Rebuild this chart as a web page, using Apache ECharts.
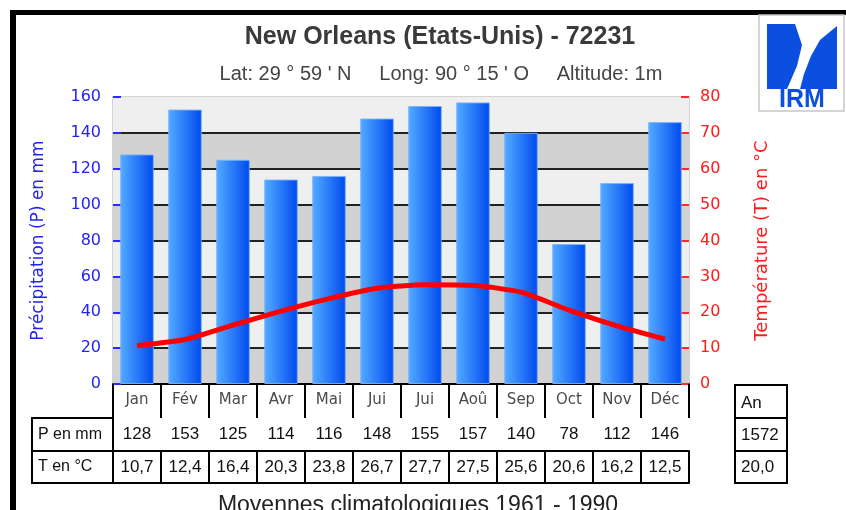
<!DOCTYPE html>
<html>
<head>
<meta charset="utf-8">
<script src="https://cdn.jsdelivr.net/npm/echarts@6/dist/echarts.min.js"></script>
<style>
  html, body { margin: 0; padding: 0; background: #fff; }
  #chart { width: 846px; height: 510px; }
</style>
</head>
<body>
<div id="chart"></div>
<script>
// données climatologiques New Orleans 1961-1990
var months = ['Jan', 'Fév', 'Mar', 'Avr', 'Mai', 'Jui', 'Jui', 'Aoû', 'Sep', 'Oct', 'Nov', 'Déc']
var precip = [128, 153, 125, 114, 116, 148, 155, 157, 140, 78, 112, 146]
var temp = [10.7, 12.4, 16.4, 20.3, 23.8, 26.7, 27.7, 27.5, 25.6, 20.6, 16.2, 12.5]
var annual = ['1572', '20,0']
var rowLabels = ['P en mm', 'T en °C']

var chart = echarts.init(document.getElementById('chart'))

var tableFont = 'Liberation Sans, Arial, sans-serif'
var narrow = '"Liberation Sans Narrow", "Liberation Sans", sans-serif'

// une ligne du tableau = un axe x supplémentaire
function rowAxis (data, offset, len) {
  return {
    type: 'category',
    data: data,
    position: 'bottom',
    offset: offset,
    axisLine: { show: true, lineStyle: { color: '#000', width: 2 } },
    axisTick: { show: len > 0, interval: 0, length: len, lineStyle: { color: '#000', width: 2 } },
    axisLabel: { show: len > 0, interval: 0, margin: 8, color: '#111', fontSize: 17, fontFamily: tableFont },
    splitLine: { show: false }
  }
}

chart.setOption({
  animation: false,
  title: [
    {
      text: 'New Orleans (Etats-Unis) - 72231',
      left: 435, top: 20, textAlign: 'center',
      textStyle: { fontFamily: narrow, fontSize: 25, fontWeight: 'bold', color: '#3a3a3a' }
    },
    {
      text: "Lat: 29 ° 59 ' N     Long: 90 ° 15 ' O     Altitude: 1m",
      left: 436, top: 59, textAlign: 'center',
      textStyle: { fontFamily: narrow, fontSize: 20, fontWeight: 'normal', color: '#444' }
    },
    {
      text: 'Moyennes climatologiques 1961 - 1990',
      left: 413, top: 489, textAlign: 'center',
      textStyle: { fontFamily: tableFont, fontSize: 23, fontWeight: 'normal', color: '#222' }
    }
  ],
  grid: {
    left: 113, right: 157, top: 97, height: 287,
    show: true, backgroundColor: '#efefef', borderColor: '#d4d4d4', borderWidth: 2
  },
  xAxis: [
    {
      type: 'category',
      data: months,
      axisLine: { show: false },
      axisTick: { show: true, interval: 0, length: 34, lineStyle: { color: '#000', width: 2 } },
      axisLabel: { interval: 0, margin: 9, color: '#4a4a4a', fontSize: 15, fontFamily: 'DejaVu Sans' }
    },
    rowAxis(precip.map(String), 34, 33),
    rowAxis(temp.map(function (v) { return v.toFixed(1).replace('.', ',') }), 67, 32),
    rowAxis(months, 99, 0)
  ],
  yAxis: [
    {
      type: 'value',
      min: 0, max: 160, interval: 20,
      name: 'Précipitation (P) en mm',
      nameLocation: 'middle', nameGap: 66, nameRotate: 90,
      nameTextStyle: { color: '#2424f0', fontSize: 17, fontFamily: 'DejaVu Sans' },
      axisLine: { show: false },
      axisTick: { show: true, inside: true, length: 8, lineStyle: { color: '#2b2bff', width: 2 } },
      axisLabel: { color: '#2424f0', fontSize: 16, margin: 12, fontFamily: 'DejaVu Sans' },
      splitLine: { show: true, showMinLine: false, showMaxLine: false, lineStyle: { color: '#222', width: 2 } },
      splitArea: { show: true, areaStyle: { color: ['#d2d2d2', '#efefef'] } }
    },
    {
      type: 'value',
      min: 0, max: 80, interval: 10,
      position: 'right',
      name: 'Température (T) en °C',
      nameLocation: 'middle', nameGap: 64, nameRotate: 90,
      nameTextStyle: { color: '#ff1a1a', fontSize: 18, fontFamily: 'DejaVu Sans' },
      axisLine: { show: false },
      axisTick: { show: true, inside: true, length: 8, lineStyle: { color: '#ff2a2a', width: 2 } },
      axisLabel: { color: '#ff1a1a', fontSize: 16, margin: 11, fontFamily: 'DejaVu Sans' },
      splitLine: { show: false },
      splitArea: { show: false }
    }
  ],
  series: [
    {
      name: 'P',
      type: 'bar',
      data: precip,
      barWidth: '70%',
      itemStyle: {
        borderColor: 'rgba(120,180,255,0.9)',
        borderWidth: 1,
        color: new echarts.graphic.LinearGradient(0, 0, 1, 0, [
          { offset: 0, color: '#55acff' },
          { offset: 1, color: '#0048ee' }
        ])
      }
    },
    {
      name: 'T',
      type: 'line',
      yAxisIndex: 1,
      data: temp,
      smooth: 0.2,
      showSymbol: false,
      z: 5,
      lineStyle: { color: '#ff0000', width: 5 }
    }
  ],
  graphic: [
    // cadre noir
    { type: 'rect', shape: { x: 10, y: 10, width: 836, height: 5 }, style: { fill: '#000' } },
    { type: 'rect', shape: { x: 10, y: 10, width: 6, height: 500 }, style: { fill: '#000' } },
    // colonne des libellés
    { type: 'rect', shape: { x: 32, y: 418, width: 81, height: 65 }, style: { fill: 'none', stroke: '#000', lineWidth: 2 } },
    { type: 'line', shape: { x1: 32, y1: 451, x2: 113, y2: 451 }, style: { stroke: '#000', lineWidth: 2 } },
    { type: 'text', x: 38, y: 435, style: { text: rowLabels[0], font: '16px ' + tableFont, fill: '#111', verticalAlign: 'middle' } },
    { type: 'text', x: 38, y: 467, style: { text: rowLabels[1], font: '16px ' + tableFont, fill: '#111', verticalAlign: 'middle' } },
    // case annuelle
    { type: 'rect', shape: { x: 735, y: 385, width: 52, height: 98 }, style: { fill: 'none', stroke: '#000', lineWidth: 2 } },
    { type: 'line', shape: { x1: 735, y1: 418, x2: 787, y2: 418 }, style: { stroke: '#000', lineWidth: 2 } },
    { type: 'line', shape: { x1: 735, y1: 451, x2: 787, y2: 451 }, style: { stroke: '#000', lineWidth: 2 } },
    { type: 'text', x: 741, y: 403, style: { text: 'An', font: '17px ' + tableFont, fill: '#111', verticalAlign: 'middle' } },
    { type: 'text', x: 741, y: 435, style: { text: annual[0], font: '17px ' + tableFont, fill: '#111', verticalAlign: 'middle' } },
    { type: 'text', x: 741, y: 467, style: { text: annual[1], font: '17px ' + tableFont, fill: '#111', verticalAlign: 'middle' } },
    // logo IRM
    { type: 'rect', shape: { x: 759, y: 15, width: 85, height: 96 }, style: { fill: '#fff', stroke: '#c8c8c8', lineWidth: 1.5 } },
    { type: 'polygon', shape: { points: [[767, 24], [795, 24], [802, 45], [797, 66], [787, 89], [767, 89]] }, style: { fill: '#0a4fe0' } },
    { type: 'polygon', shape: { points: [[837, 26], [820, 40], [811, 56], [804, 74], [800, 89], [837, 89]] }, style: { fill: '#0a4fe0' } },
    { type: 'text', x: 802, y: 100, style: { text: 'IRM', font: 'bold 25px "Liberation Sans", sans-serif', fill: '#0a4fe0', align: 'center', verticalAlign: 'middle' } }
  ]
})
</script>
</body>
</html>
